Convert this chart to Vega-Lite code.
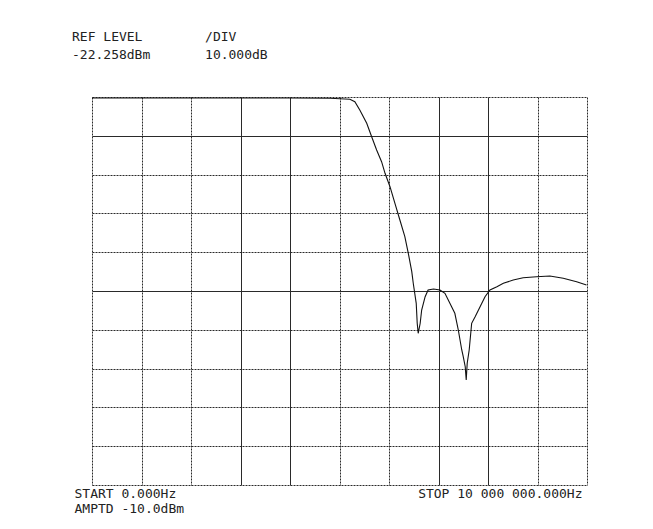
{
  "$schema": "https://vega.github.io/schema/vega-lite/v6.json",
  "width": 495,
  "height": 388,
  "autosize": {"type": "none"},
  "padding": {"left": 92, "top": 97, "right": 66, "bottom": 44},
  "background": "white",
  "config": {"view": {"stroke": null}, "font": "DejaVu Sans Mono"},
  "title": {
    "text": ["REF LEVEL\u00a0\u00a0\u00a0\u00a0\u00a0\u00a0\u00a0\u00a0/DIV", "-22.258dBm\u00a0\u00a0\u00a0\u00a0\u00a0\u00a0\u00a010.000dB"],
    "anchor": "start",
    "frame": "group",
    "dx": -20,
    "offset": 34,
    "font": "DejaVu Sans Mono",
    "fontSize": 13,
    "fontWeight": "normal",
    "color": "#222222",
    "lineHeight": 18
  },
  "data": {
    "values": [
      {"freq_mhz": 0.0, "level_dbm": -22.5},
      {"freq_mhz": 1.0, "level_dbm": -22.5},
      {"freq_mhz": 2.0, "level_dbm": -22.5},
      {"freq_mhz": 3.0, "level_dbm": -22.5},
      {"freq_mhz": 4.0, "level_dbm": -22.5},
      {"freq_mhz": 4.81, "level_dbm": -22.59},
      {"freq_mhz": 5.21, "level_dbm": -22.85},
      {"freq_mhz": 5.31, "level_dbm": -23.47},
      {"freq_mhz": 5.41, "level_dbm": -25.61},
      {"freq_mhz": 5.55, "level_dbm": -29.04},
      {"freq_mhz": 5.65, "level_dbm": -32.49},
      {"freq_mhz": 5.75, "level_dbm": -35.92},
      {"freq_mhz": 5.85, "level_dbm": -38.93},
      {"freq_mhz": 5.92, "level_dbm": -41.92},
      {"freq_mhz": 6.02, "level_dbm": -45.38},
      {"freq_mhz": 6.12, "level_dbm": -49.66},
      {"freq_mhz": 6.22, "level_dbm": -53.96},
      {"freq_mhz": 6.32, "level_dbm": -58.26},
      {"freq_mhz": 6.39, "level_dbm": -62.54},
      {"freq_mhz": 6.46, "level_dbm": -67.28},
      {"freq_mhz": 6.49, "level_dbm": -70.27},
      {"freq_mhz": 6.55, "level_dbm": -75.43},
      {"freq_mhz": 6.57, "level_dbm": -80.58},
      {"freq_mhz": 6.59, "level_dbm": -83.16},
      {"freq_mhz": 6.63, "level_dbm": -80.58},
      {"freq_mhz": 6.66, "level_dbm": -77.16},
      {"freq_mhz": 6.73, "level_dbm": -73.73},
      {"freq_mhz": 6.79, "level_dbm": -72.0},
      {"freq_mhz": 6.9, "level_dbm": -71.74},
      {"freq_mhz": 7.03, "level_dbm": -72.0},
      {"freq_mhz": 7.13, "level_dbm": -72.85},
      {"freq_mhz": 7.23, "level_dbm": -75.43},
      {"freq_mhz": 7.33, "level_dbm": -78.0},
      {"freq_mhz": 7.4, "level_dbm": -82.31},
      {"freq_mhz": 7.47, "level_dbm": -87.46},
      {"freq_mhz": 7.5, "level_dbm": -89.19},
      {"freq_mhz": 7.54, "level_dbm": -91.77},
      {"freq_mhz": 7.56, "level_dbm": -95.2},
      {"freq_mhz": 7.58, "level_dbm": -90.89},
      {"freq_mhz": 7.62, "level_dbm": -87.46},
      {"freq_mhz": 7.67, "level_dbm": -80.58},
      {"freq_mhz": 7.74, "level_dbm": -78.88},
      {"freq_mhz": 7.84, "level_dbm": -76.3},
      {"freq_mhz": 7.94, "level_dbm": -73.73},
      {"freq_mhz": 8.04, "level_dbm": -72.0},
      {"freq_mhz": 8.18, "level_dbm": -71.15},
      {"freq_mhz": 8.31, "level_dbm": -70.27},
      {"freq_mhz": 8.51, "level_dbm": -69.42},
      {"freq_mhz": 8.71, "level_dbm": -68.83},
      {"freq_mhz": 8.98, "level_dbm": -68.57},
      {"freq_mhz": 9.25, "level_dbm": -68.39},
      {"freq_mhz": 9.52, "level_dbm": -68.98},
      {"freq_mhz": 9.79, "level_dbm": -69.86},
      {"freq_mhz": 9.99, "level_dbm": -70.71}
    ]
  },
  "mark": {"type": "line", "color": "#111111", "strokeWidth": 1.1},
  "encoding": {
    "x": {
      "field": "freq_mhz",
      "type": "quantitative",
      "scale": {"domain": [0, 10], "nice": false},
      "axis": {
        "values": [0, 1, 2, 3, 4, 5, 6, 7, 8, 9, 10],
        "grid": true,
        "gridColor": "#2a2a2a",
        "gridWidth": 1,
        "gridDash": {
          "condition": {"test": "datum.value == 3 || datum.value == 4 || datum.value == 7 || datum.value == 8", "value": []},
          "value": [2, 1]
        },
        "domain": false,
        "ticks": false,
        "tickSize": 0,
        "labelExpr": "datum.value == 0 ? 'START 0.000Hz' : datum.value == 10 ? 'STOP 10 000 000.000Hz' : ''",
        "labelFlush": true,
        "labelFlushOffset": 6.5,
        "labelOffset": -11.5,
        "labelOverlap": false,
        "labelBound": false,
        "labelFont": "DejaVu Sans Mono",
        "labelFontSize": 13,
        "labelColor": "#222222",
        "labelPadding": 2,
        "title": "AMPTD -10.0dBm",
        "titleAnchor": "start",
        "titleAlign": "left",
        "titleX": -18,
        "titleY": 27,
        "titleBaseline": "alphabetic",
        "titleFont": "DejaVu Sans Mono",
        "titleFontSize": 13,
        "titleFontWeight": "normal",
        "titleColor": "#222222"
      }
    },
    "y": {
      "field": "level_dbm",
      "type": "quantitative",
      "scale": {"domain": [-122.258, -22.258], "nice": false, "zero": false},
      "axis": {
        "values": [-122.258, -112.258, -102.258, -92.258, -82.258, -72.258, -62.258, -52.258, -42.258, -32.258, -22.258],
        "grid": true,
        "gridColor": "#2a2a2a",
        "gridWidth": 1,
        "gridDash": {
          "condition": {"test": "abs(datum.value + 72.258) < 0.01 || abs(datum.value + 32.258) < 0.01", "value": []},
          "value": [2, 1]
        },
        "domain": false,
        "ticks": false,
        "labels": false,
        "title": null
      }
    }
  }
}
